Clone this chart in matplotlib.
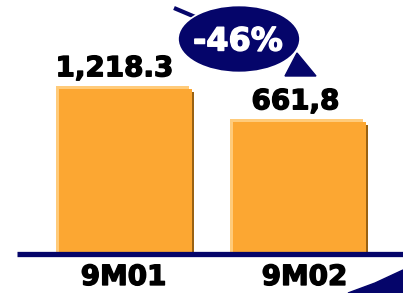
import matplotlib.pyplot as plt
import matplotlib.patheffects as pe
from matplotlib.patches import Ellipse, Polygon
import numpy as np

# data
periods = ['9M01', '9M02']
values = [1218.3, 661.8]
value_labels = ['1,218.3', '661,8']
change_label = '-46%'

orange = '#FCA732'
light = '#FFCB7A'
dark = '#9A6212'
navy = '#05056A'

W, H = 403, 293
fig = plt.figure(figsize=(W / 100, H / 100), dpi=100)
ax = fig.add_axes([0, 0, 1, 1])
ax.axis('off')

# axis limits chosen so bars sit where the slide had them
xmin, xmax = -0.7213, 1.5948
ymin, ymax = -2222, 2719
ax.set_xlim(xmin, xmax)
ax.set_ylim(ymin, ymax)
px_x = (xmax - xmin) / W
px_y = (ymax - ymin) / H
base = -1530

x = np.arange(len(values))
vals = np.array(values)
width = 133 * px_x

# highlight, shadow, main bar
ax.bar(x - 3 * px_x, vals + 3 * px_y - base, width, bottom=base, color=light, zorder=1)
ax.bar(x + 2 * px_x, vals - 3 * px_y - base, width, bottom=base, color=dark, zorder=1)
ax.bar(x, vals - base, width, bottom=base, color=orange, zorder=2)

# baseline
ax.hlines(base - 2.5 * px_y, xmin + 17 * px_x, xmax, color=navy, lw=3.8, zorder=3)

heavy = [pe.withStroke(linewidth=1.0, foreground='black')]

lab_dx = [-11, -4]
for i in range(len(values)):
    ax.annotate(value_labels[i], (x[i], values[i] + 3 * px_y), xytext=(lab_dx[i] * 0.72, 7),
                textcoords='offset points', ha='center', va='baseline',
                fontsize=20, fontweight='bold', color='black', path_effects=heavy)

tick_dx = [-2, 5]
for i in range(len(periods)):
    ax.text(x[i] + tick_dx[i] * px_x, base - 33 * px_y, periods[i], ha='center', va='baseline',
            fontsize=20, fontweight='bold', color='black', path_effects=heavy)

# decorations in pixel space
ov = fig.add_axes([0, 0, 1, 1])
ov.set_xlim(0, W)
ov.set_ylim(H, 0)
ov.axis('off')
ov.patch.set_alpha(0)

ov.plot([174, 200], [8, 19], color=navy, lw=3, solid_capstyle='butt', zorder=1)
ov.add_patch(Polygon([[285, 76], [316, 76], [297, 53]], closed=True, color=navy, zorder=1))
ov.add_patch(Ellipse((239, 39), 122, 67, facecolor=navy, edgecolor='white', lw=1.2, zorder=2))
ov.text(238, 42, change_label, ha='center', va='center', fontsize=23,
        fontweight='bold', color='white', zorder=3,
        path_effects=[pe.withStroke(linewidth=1.0, foreground='white')])
ov.add_patch(Polygon([[348, 293], [375, 283], [403, 270], [403, 293]], closed=True,
                     color=navy, zorder=1))

fig.savefig('out.png', dpi=100)
